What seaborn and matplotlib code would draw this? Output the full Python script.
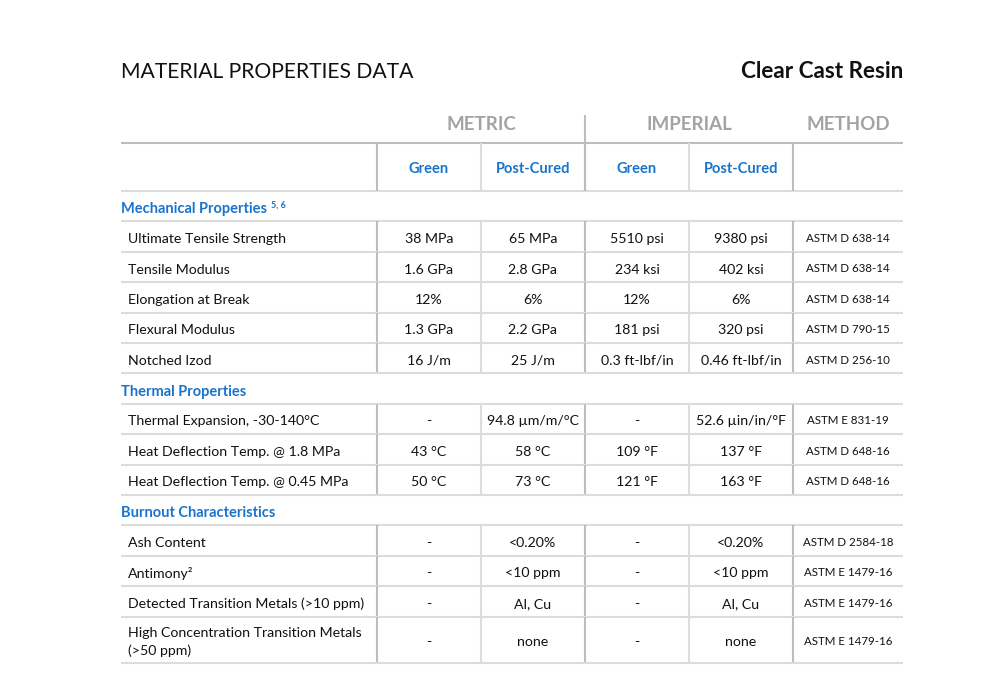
import matplotlib
matplotlib.use("Agg")
import matplotlib.pyplot as plt
import seaborn as sns

sns.set_theme(style="white")
plt.rcParams['font.family'] = ['Lato', 'DejaVu Sans']

# ---------------- data ----------------
title_left = "MATERIAL PROPERTIES DATA"
title_right = "Clear Cast Resin"
group_headers = ["METRIC", "IMPERIAL", "METHOD"]
sub_headers = ["Green", "Post-Cured", "Green", "Post-Cured"]

section_names = ["Mechanical Properties", "Thermal Properties", "Burnout Characteristics"]
section_sups = ["5, 6", "", ""]

properties = [
    "Ultimate Tensile Strength", "Tensile Modulus", "Elongation at Break",
    "Flexural Modulus", "Notched Izod",
    "Thermal Expansion, -30-140°C", "Heat Deflection Temp. @ 1.8 MPa",
    "Heat Deflection Temp. @ 0.45 MPa",
    "Ash Content", "Antimony²", "Detected Transition Metals (>10 ppm)",
    "High Concentration Transition Metals\n(>50 ppm)",
]
row_section = [0, 0, 0, 0, 0, 1, 1, 1, 2, 2, 2, 2]
metric_green = ["38 MPa", "1.6 GPa", "12%", "1.3 GPa", "16 J/m",
                "-", "43 °C", "50 °C",
                "-", "-", "-", "-"]
metric_post = ["65 MPa", "2.8 GPa", "6%", "2.2 GPa", "25 J/m",
               "94.8 µm/m/°C", "58 °C", "73 °C",
               "<0.20%", "<10 ppm", "Al, Cu", "none"]
imperial_green = ["5510 psi", "234 ksi", "12%", "181 psi", "0.3 ft-lbf/in",
                  "-", "109 °F", "121 °F",
                  "-", "-", "-", "-"]
imperial_post = ["9380 psi", "402 ksi", "6%", "320 psi", "0.46 ft-lbf/in",
                 "52.6 µin/in/°F", "137 °F", "163 °F",
                 "<0.20%", "<10 ppm", "Al, Cu", "none"]
methods = ["ASTM D 638-14", "ASTM D 638-14", "ASTM D 638-14", "ASTM D 790-15",
           "ASTM D 256-10", "ASTM E 831-19", "ASTM D 648-16", "ASTM D 648-16",
           "ASTM D 2584-18", "ASTM E 1479-16", "ASTM E 1479-16", "ASTM E 1479-16"]

# ---------------- layout ----------------
W, H = 994, 675
BLUE = "#1874cd"
GREY_HDR = "#a3a3a3"
LINE_LIGHT = "#dcdcdc"
LINE_DARK = "#bdbdbd"
TXT = "#111111"

x_left, x_right = 121, 903
col_edges = [377, 481, 585, 689, 793, 903]
dark_cols = {377, 585, 793}
y_top_rule = 143
y_sub_bottom = 191
row_h = 30.4
tall_h = 46
BODY_FS = 10.2

fig = plt.figure(figsize=(W / 100, H / 100), dpi=100)
ax = fig.add_axes([0, 0, 1, 1])
ax.set_xlim(0, W)
ax.set_ylim(H, 0)
ax.axis("off")

def hline(y, color=LINE_LIGHT, lw=1.5):
    ax.plot([x_left, x_right], [y, y], color=color, lw=lw, solid_capstyle="butt")

def vline(x, y0, y1, color, lw=1.5):
    ax.plot([x, x], [y0, y1], color=color, lw=lw, solid_capstyle="butt")

# titles
ax.text(x_left, 72, title_left, fontsize=15.2, color="#111111", ha="left", va="center")
ax.text(x_right, 72, title_right, fontsize=16.2, color="#111111", ha="right", va="center",
        fontweight="bold")

# group headers
group_centers = [(col_edges[0] + col_edges[2]) / 2, (col_edges[2] + col_edges[4]) / 2,
                 (col_edges[4] + col_edges[5]) / 2]
for gx, g in zip(group_centers, group_headers):
    ax.text(gx, 125, g, fontsize=13.5, color=GREY_HDR, fontweight="bold",
            ha="center", va="center")

# sub headers
for i, s in enumerate(sub_headers):
    cx = (col_edges[i] + col_edges[i + 1]) / 2
    ax.text(cx, 169, s, fontsize=10.5, color=BLUE, fontweight="bold",
            ha="center", va="center")

hline(y_top_rule, LINE_DARK)
hline(y_sub_bottom)
vline(585, 115, y_sub_bottom, LINE_DARK)
for x in col_edges[:-1]:
    vline(x, y_top_rule, y_sub_bottom, LINE_DARK if x in dark_cols else LINE_LIGHT)

# body
fig.canvas.draw()
renderer = fig.canvas.get_renderer()
y = y_sub_bottom
for si, sname in enumerate(section_names):
    # section row
    yc = y + row_h / 2
    t = ax.text(x_left, yc + 3, sname, fontsize=10.5, color=BLUE, fontweight="bold",
                ha="left", va="center")
    if section_sups[si]:
        bb = t.get_window_extent(renderer=renderer)
        ax.text(bb.x1 + 4, yc - 1, section_sups[si], fontsize=6.5, color=BLUE,
                fontweight="bold", ha="left", va="center")
    y += row_h
    hline(y)
    for ri in [i for i, s in enumerate(row_section) if s == si]:
        h = tall_h if "\n" in properties[ri] else row_h
        yc = y + h / 2
        ax.text(128, yc + 2.5, properties[ri], fontsize=BODY_FS, color=TXT, ha="left",
                va="center", linespacing=1.55)
        vals = [metric_green[ri], metric_post[ri], imperial_green[ri], imperial_post[ri]]
        for ci, v in enumerate(vals):
            cx = (col_edges[ci] + col_edges[ci + 1]) / 2
            ax.text(cx, yc + 2.5, v, fontsize=BODY_FS, color=TXT, ha="center", va="center")
        ax.text((col_edges[4] + col_edges[5]) / 2, yc + 2, methods[ri], fontsize=8.3,
                color=TXT, ha="center", va="center")
        for x in col_edges[:-1]:
            vline(x, y, y + h, LINE_DARK if x in dark_cols else LINE_LIGHT)
        y += h
        hline(y)

fig.savefig("out.png", dpi=100, facecolor="white")
